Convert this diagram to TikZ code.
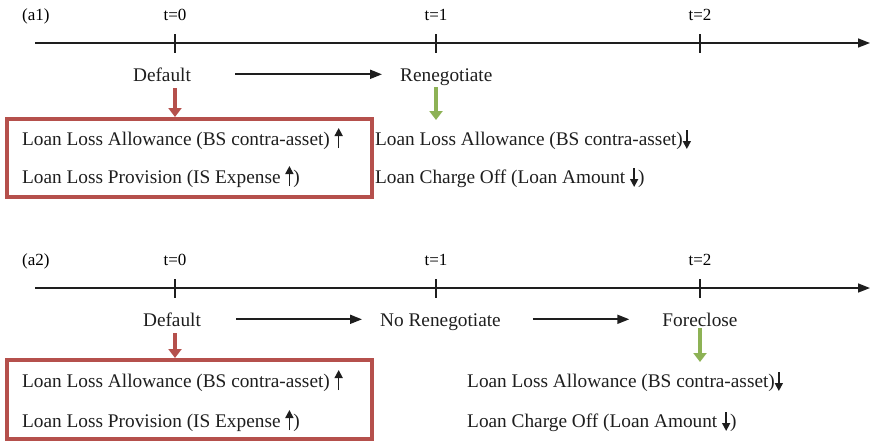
\documentclass[tikz,border=0pt]{standalone}
\usepackage{fontspec}
\setmainfont{Liberation Serif}
\usepackage{xcolor,tikz}
\usetikzlibrary{positioning,calc,arrows.meta}
\definecolor{tlRedLine}{HTML}{B5504C}
\definecolor{tlGreenLine}{HTML}{8DB255}
\definecolor{tlBlackLine}{HTML}{1E1E1E}
% small up / down arrows set inside the text lines
\newcommand{\upArr}{\tikz[baseline=0pt]\draw[line width=1.6pt,-{Triangle[length=8pt,width=8pt]}] (0pt,-3pt) -- (0pt,17pt);}
\newcommand{\downArr}{\tikz[baseline=0pt]\draw[line width=1.6pt,-{Triangle[length=8pt,width=8pt]}] (0pt,15pt) -- (0pt,-4pt);}
\tikzset{
  tl text/.style={
    font=\fontsize{19.3}{22}\selectfont, inner sep=0pt, text=tlBlackLine,
  },
  tick label/.style={
    font=\fontsize{17}{20}\selectfont, inner sep=0pt, anchor=base,
  },
  time axis/.style={
    line width=1.6pt, color=tlBlackLine, -{Triangle[length=12pt,width=9pt]},
  },
  tick line/.style={
    line width=1.1pt, color=tlBlackLine,
  },
  step arrow/.style={
    line width=1.8pt, color=tlBlackLine, -{Triangle[length=12pt,width=9pt]},
  },
  book box/.style={
    draw=tlRedLine, line width=3.5pt, inner sep=0pt,
    minimum width=365pt, anchor=north west,
  },
  red arrow/.style={
    line width=4.5pt, color=tlRedLine, -{Triangle[length=9pt,width=13pt]},
  },
  green arrow/.style={
    line width=4.5pt, color=tlGreenLine, -{Triangle[length=9pt,width=13pt]},
  },
}

\begin{document}
\begin{tikzpicture}[x=1pt,y=-1pt]
\useasboundingbox (0,0) rectangle (872,440);

%% panel (a1): default, then renegotiate =============================
\node[tick label, anchor=base west] (lab1) at (22,20) {(a1)};
\coordinate (ax1s) at (35,43);
\coordinate (ax1e) at (870,43);
\draw[time axis] (ax1s) -- (ax1e);
% ticks t=0,1,2
\foreach \i/\x in {0/175, 1/436, 2/700} {
  \coordinate (tk1\i) at (\x,43);
  \draw[tick line] ($(tk1\i)+(0,-9)$) -- ($(tk1\i)+(0,10)$);
  \node[tick label] (t1\i) at (\x,20) {t=\i};
}
\node[tl text, anchor=base] (def1) at (162,81) {Default};
\node[tl text, anchor=base west] (reneg1) at (400,81) {Renegotiate};
\draw[step arrow, shorten <=44pt, shorten >=18pt]
  (def1.east) -- (def1.east -| reneg1.west);

% booked at default
\node[book box, minimum height=78pt] (box1) at (5,117) {};
\node[tl text, anchor=base west] (allow1l) at (22,145)
  {Loan Loss Allowance (BS contra-asset) \upArr};
\node[tl text, anchor=base west] (prov1) at (22,183)
  {Loan Loss Provision (IS Expense \upArr)};
\draw[red arrow, shorten <=7pt] (def1.south -| tk10) -- (box1.north -| tk10);

% booked at renegotiation
\node[tl text, anchor=base west] (allow1r) at (375,145)
  {Loan Loss Allowance (BS contra-asset)\downArr};
\node[tl text, anchor=base west] (chg1) at (375,183)
  {Loan Charge Off (Loan Amount \downArr)};
\draw[green arrow, shorten <=2pt, shorten >=9pt]
  (reneg1.south -| tk11) -- (allow1r.north -| tk11);

%% panel (a2): default, no renegotiation, foreclose ==================
\begin{scope}[yshift=-245pt]
\node[tick label, anchor=base west] (lab2) at (22,20) {(a2)};
\coordinate (ax2s) at (35,43);
\coordinate (ax2e) at (870,43);
\draw[time axis] (ax2s) -- (ax2e);
\foreach \i/\x in {0/175, 1/436, 2/700} {
  \coordinate (tk2\i) at (\x,43);
  \draw[tick line] ($(tk2\i)+(0,-9)$) -- ($(tk2\i)+(0,10)$);
  \node[tick label] (t2\i) at (\x,20) {t=\i};
}
\node[tl text, anchor=base] (def2) at (172,81) {Default};
\node[tl text, anchor=base west] (noreneg2) at (380,81) {No Renegotiate};
\node[tl text, anchor=base] (fore2) at (700,81) {Foreclose};
\draw[step arrow, shorten <=35pt, shorten >=18pt]
  (def2.east) -- (def2.east -| noreneg2.west);
\draw[step arrow, shorten <=32pt, shorten >=33pt]
  (def2.east -| noreneg2.east) -- (def2.east -| fore2.west);

% booked at default
\node[book box, minimum height=79pt] (box2) at (5,113) {};
\node[tl text, anchor=base west] (allow2l) at (22,142)
  {Loan Loss Allowance (BS contra-asset) \upArr};
\node[tl text, anchor=base west] (prov2) at (22,182)
  {Loan Loss Provision (IS Expense \upArr)};
\draw[red arrow, shorten <=7pt] (def2.south -| tk20) -- (box2.north -| tk20);

% booked at foreclosure
\node[tl text, anchor=base west] (allow2r) at (467,142)
  {Loan Loss Allowance (BS contra-asset)\downArr};
\node[tl text, anchor=base west] (chg2) at (467,182)
  {Loan Charge Off (Loan Amount \downArr)};
\draw[green arrow, shorten <=2pt, shorten >=9pt]
  (fore2.south -| tk22) -- (allow2r.north -| tk22);
\end{scope}

\end{tikzpicture}
\end{document}
